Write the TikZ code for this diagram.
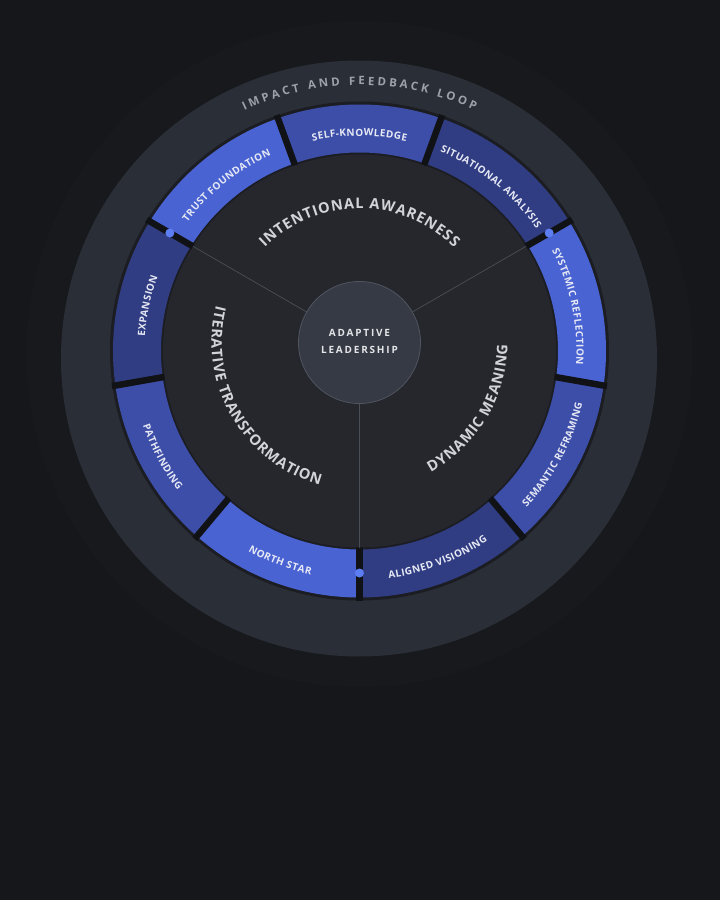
\documentclass[tikz,border=0pt]{standalone}
\usepackage{fontspec}
\setmainfont{Open Sans}
\usetikzlibrary{calc}
\definecolor{bg}{HTML}{16171B}
\definecolor{halo}{HTML}{18191D}
\definecolor{ringbd}{HTML}{1B1D22}
\definecolor{gapc}{HTML}{111215}
\definecolor{segA}{HTML}{4A63D2}
\definecolor{segB}{HTML}{3D4EA8}
\definecolor{segC}{HTML}{313D82}
\definecolor{innerc}{HTML}{25272D}
\definecolor{hubc}{HTML}{363A44}
\definecolor{hubbd}{HTML}{50555F}
\definecolor{spoke}{HTML}{4A4E57}
\definecolor{dotc}{HTML}{5D7DF2}
\definecolor{seglab}{HTML}{E6E9F5}
\definecolor{seclab}{HTML}{D2D4D9}
\definecolor{titlec}{HTML}{9DA1AA}
\definecolor{hublab}{HTML}{E4E5E8}
\pgfdeclareradialshading{outerdisk}{\pgfpoint{0bp}{0bp}}{rgb(0bp)=(0.166,0.181,0.210); rgb(41bp)=(0.166,0.181,0.210); rgb(44bp)=(0.150,0.163,0.190); rgb(50bp)=(0.122,0.133,0.155)}
\tikzset{
  glyph/.style={anchor=base, inner sep=0pt, outer sep=0pt},
  hubtxt/.style={anchor=base, inner sep=0pt, text=hublab, font=\fontsize{10}{12}\selectfont\bfseries\addfontfeature{LetterSpace=18}},
  dotnode/.style={circle, fill=dotc, minimum size=9pt, inner sep=0pt},
}
\ExplSyntaxOn
\box_new:N \l__rk_box
\dim_new:N \l__rk_total_dim
\dim_new:N \l__rk_cum_dim
\fp_new:N \l__rk_ang_fp
\fp_new:N \l__rk_off_fp
\tl_new:N \l__rk_font_tl
\int_new:N \g__rk_glyph_int
\cs_new_protected:Npn \__rk_measure:n #1
  {
    \hbox_set:Nn \l__rk_box { \pgfinterruptpicture \l__rk_font_tl \relax #1 \endpgfinterruptpicture }
  }
\NewDocumentCommand \ArcText { m m m m m m m m }
  {
    \tl_set:Nn \l__rk_font_tl {#6}
    \dim_zero:N \l__rk_total_dim
    \str_map_inline:nn {#8}
      {
        \__rk_measure:n {##1}
        \dim_add:Nn \l__rk_total_dim { \box_wd:N \l__rk_box + #7 pt }
      }
    \dim_sub:Nn \l__rk_total_dim { #7 pt }
    \dim_zero:N \l__rk_cum_dim
    \str_map_inline:nn {#8}
      {
        \__rk_measure:n {##1}
        \fp_set:Nn \l__rk_off_fp
          { \dim_to_fp:n { \l__rk_cum_dim + \box_wd:N \l__rk_box / 2 - \l__rk_total_dim / 2 } }
        \fp_set:Nn \l__rk_ang_fp { (#4) - (#5) * \l__rk_off_fp / (#3) * 180 / pi }
        \tl_if_blank:nF {##1}
          {
            \int_gincr:N \g__rk_glyph_int
            \use:e
              {
                \exp_not:N \PlaceGlyph
                  { \fp_eval:n { round( (#1) + (#3) * cosd(\l__rk_ang_fp), 3) } }
                  { \fp_eval:n { round( (#2) + (#3) * sind(\l__rk_ang_fp), 3) } }
                  { \fp_eval:n { round( \l__rk_ang_fp - (#5) * 90, 3) } }
                  { \exp_not:V \l__rk_font_tl \exp_not:n {##1} }
                  { glyph \int_use:N \g__rk_glyph_int }
              }
          }
        \dim_add:Nn \l__rk_cum_dim { \box_wd:N \l__rk_box + #7 pt }
      }
  }
\ExplSyntaxOff
\newcommand\PlaceGlyph[5]{\node[glyph, rotate=#3] (#5) at (#1pt,#2pt) {#4};}
\newcommand\SegFont{\fontsize{10}{12}\selectfont\bfseries\color{seglab}}
\newcommand\SecFont{\fontsize{14.6}{18}\selectfont\bfseries\color{seclab}}
\newcommand\TitleFont{\fontsize{11.5}{14}\selectfont\bfseries\color{titlec}}
\begin{document}
\begin{tikzpicture}
\useasboundingbox (-359.5pt,-549pt) rectangle (360.5pt,351pt);
\fill[bg] (-359.5pt,-549pt) rectangle (360.5pt,351pt);
\coordinate (C1) at (0pt,0pt);
\coordinate (C0) at (0pt,8.5pt);
% halo and outer disk
\fill[halo] (0pt,-3pt) circle[radius=333pt];
\shade[shading=outerdisk] (-0.5pt,-7.5pt) circle[radius=298pt];
% ring base
\fill[ringbd, even odd rule] (C1) circle[radius=249.5pt] (C1) circle[radius=195pt];
% segments
\foreach \a/\c in {110/segB,70/segC,30/segA,-10/segB,-50/segC,-90/segA,-130/segB,-170/segC,150/segA}{
  \begin{scope}
    \clip (C0) -- ($(C0)+(\a:520pt)$) -- ($(C0)+({\a-40}:520pt)$) -- cycle;
    \fill[\c, even odd rule] (C1) circle[radius=246.5pt] (C1) circle[radius=198.5pt];
  \end{scope}
}
% gaps
\begin{scope}[even odd rule]
  \clip (C1) circle[radius=250pt] (C1) circle[radius=195pt];
  \foreach \a in {110,70,30,-10,-50,-90,-130,-170,150}
    \draw[gapc, line width=6.5pt] ($(C0)+(\a:180pt)$) -- ($(C0)+(\a:275pt)$);
\end{scope}
% inner disk
\fill[innerc] (C1) circle[radius=196.5pt];
% spokes
\begin{scope}
  \clip (C1) circle[radius=196.5pt];
  \foreach \a in {150,30,-90}
    \draw[spoke, line width=0.7pt] ($(C0)+(\a:61pt)$) -- ($(C0)+(\a:260pt)$);
\end{scope}
% hub
\node[circle, fill=hubc, draw=hubbd, line width=0.8pt, minimum size=122pt, inner sep=0pt] (hub) at (C0) {};
\node[hubtxt] (adaptive) at (0pt,14.4pt) {ADAPTIVE};
\node[hubtxt] (leadership) at (0pt,-2.6pt) {LEADERSHIP};
% dots
\node[dotnode] (dot1) at ($(C0)+(150:219pt)$) {};
\node[dotnode] (dot2) at ($(C0)+(30:219pt)$) {};
\node[dotnode] (dot3) at ($(C0)+(-90:230.5pt)$) {};
% title
\ArcText{0}{-7}{273}{90}{1}{\TitleFont}{3.0}{IMPACT AND FEEDBACK LOOP}
% section labels
\ArcText{0}{8.5}{134}{90}{1}{\SecFont}{0.9}{INTENTIONAL AWARENESS}
\ArcText{0}{8.5}{148}{-31}{-1}{\SecFont}{0.8}{DYNAMIC MEANING}
\ArcText{0}{8.5}{148}{210}{-1}{\SecFont}{0.7}{ITERATIVE TRANSFORMATION}
% segment labels
\ArcText{0}{0}{215}{128.7}{1}{\SegFont}{0.4}{TRUST FOUNDATION}
\ArcText{0}{0}{215}{90}{1}{\SegFont}{0.4}{SELF-KNOWLEDGE}
\ArcText{0}{0}{215}{51.3}{1}{\SegFont}{0.4}{SITUATIONAL ANALYSIS}
\ArcText{0}{0}{217}{12}{1}{\SegFont}{0.4}{SYSTEMIC REFLECTION}
\ArcText{0}{0}{215}{168}{1}{\SegFont}{0.4}{EXPANSION}
\ArcText{0}{0}{229}{-28.2}{-1}{\SegFont}{0.4}{SEMANTIC REFRAMING}
\ArcText{0}{0}{229}{-69.3}{-1}{\SegFont}{0.4}{ALIGNED VISIONING}
\ArcText{0}{0}{229}{-110.7}{-1}{\SegFont}{0.4}{NORTH STAR}
\ArcText{0}{0}{229}{-151.8}{-1}{\SegFont}{0.4}{PATHFINDING}
\end{tikzpicture}
\end{document}
